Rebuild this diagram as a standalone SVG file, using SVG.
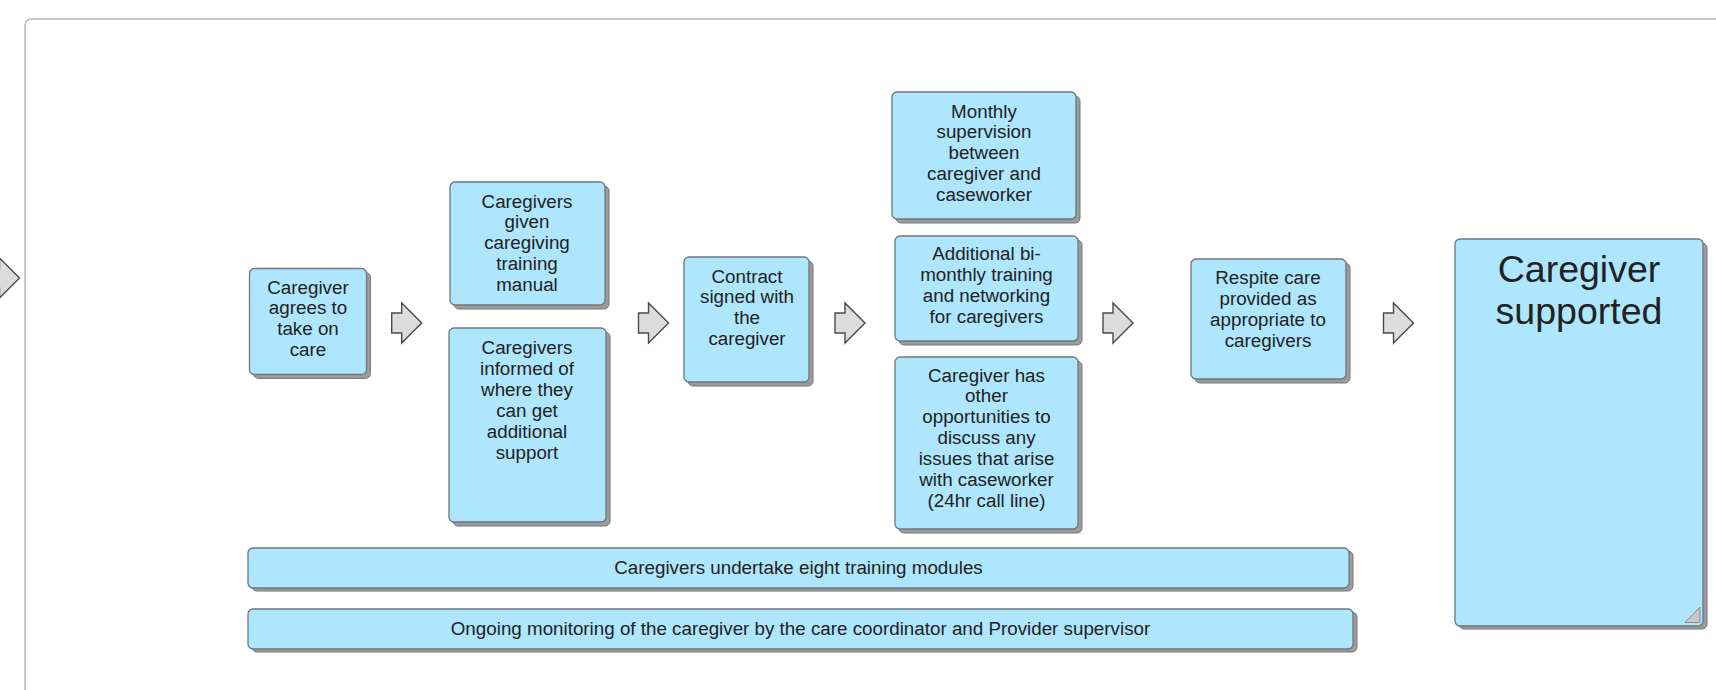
<svg xmlns="http://www.w3.org/2000/svg" width="1716" height="690" viewBox="0 0 1716 690">
<style>
.frame{fill:#fff;stroke:#b8b8b8;stroke-width:1.5}
.sh{fill:#9c9c9c;stroke:#777;stroke-width:1}
.bx{fill:#aee6fd;stroke:#6d777d;stroke-width:1.3}
.t{font-family:"Liberation Sans",Arial,Helvetica,sans-serif;font-size:18.8px;fill:#222;text-anchor:middle}
.big{font-family:"Liberation Sans",Arial,Helvetica,sans-serif;font-size:37.5px;fill:#222;text-anchor:middle}
.arr{fill:#dcdcdc;stroke:#4a4a4a;stroke-width:1.4;stroke-linejoin:miter}
</style>
<defs>
<polygon id="ar" points="0,-10 10,-10 10,-20 30,0 10,20 10,10 0,10"/>
</defs>
<rect width="1716" height="690" fill="#fff"/>
<rect class="frame" x="25" y="19" width="1740" height="720" rx="6"/>
<g id="connectors">
<use href="#ar" class="arr" x="-10.5" y="278"/>
<use href="#ar" class="arr" x="391.7" y="323"/>
<use href="#ar" class="arr" x="638.5" y="323"/>
<use href="#ar" class="arr" x="835" y="323"/>
<use href="#ar" class="arr" x="1103" y="323"/>
<use href="#ar" class="arr" x="1383.5" y="323"/>
</g>
<g id="n1">
<rect class="sh" x="253.5" y="272.5" width="117" height="106" rx="5"/>
<rect class="bx" x="249.5" y="268.5" width="117" height="106" rx="5"/>
<text class="t" x="308" y="293.5">Caregiver<tspan x="308" dy="20.9">agrees to</tspan><tspan x="308" dy="20.9">take on</tspan><tspan x="308" dy="20.9">care</tspan></text>
</g>
<g id="n2">
<rect class="sh" x="454" y="186" width="155" height="123" rx="5"/>
<rect class="bx" x="450" y="182" width="155" height="123" rx="5"/>
<text class="t" x="527" y="207.5">Caregivers<tspan x="527" dy="20.9">given</tspan><tspan x="527" dy="20.9">caregiving</tspan><tspan x="527" dy="20.9">training</tspan><tspan x="527" dy="20.9">manual</tspan></text>
</g>
<g id="n3">
<rect class="sh" x="453" y="332" width="157" height="194" rx="5"/>
<rect class="bx" x="449" y="328" width="157" height="194" rx="5"/>
<text class="t" x="527" y="354">Caregivers<tspan x="527" dy="20.9">informed of</tspan><tspan x="527" dy="20.9">where they</tspan><tspan x="527" dy="20.9">can get</tspan><tspan x="527" dy="20.9">additional</tspan><tspan x="527" dy="20.9">support</tspan></text>
</g>
<g id="n4">
<rect class="sh" x="688" y="261" width="125" height="125" rx="5"/>
<rect class="bx" x="684" y="257" width="125" height="125" rx="5"/>
<text class="t" x="747" y="282.5">Contract<tspan x="747" dy="20.9">signed with</tspan><tspan x="747" dy="20.9">the</tspan><tspan x="747" dy="20.9">caregiver</tspan></text>
</g>
<g id="n5">
<rect class="sh" x="896" y="96" width="184" height="127" rx="5"/>
<rect class="bx" x="892" y="92" width="184" height="127" rx="5"/>
<text class="t" x="984" y="117.5">Monthly<tspan x="984" dy="20.9">supervision</tspan><tspan x="984" dy="20.9">between</tspan><tspan x="984" dy="20.9">caregiver and</tspan><tspan x="984" dy="20.9">caseworker</tspan></text>
</g>
<g id="n6">
<rect class="sh" x="899" y="240" width="183" height="105" rx="5"/>
<rect class="bx" x="895" y="236" width="183" height="105" rx="5"/>
<text class="t" x="986.5" y="260">Additional bi-<tspan x="986.5" dy="20.9">monthly training</tspan><tspan x="986.5" dy="20.9">and networking</tspan><tspan x="986.5" dy="20.9">for caregivers</tspan></text>
</g>
<g id="n7">
<rect class="sh" x="899" y="361" width="183" height="172" rx="5"/>
<rect class="bx" x="895" y="357" width="183" height="172" rx="5"/>
<text class="t" x="986.5" y="381.5">Caregiver has<tspan x="986.5" dy="20.9">other</tspan><tspan x="986.5" dy="20.9">opportunities to</tspan><tspan x="986.5" dy="20.9">discuss any</tspan><tspan x="986.5" dy="20.9">issues that arise</tspan><tspan x="986.5" dy="20.9">with caseworker</tspan><tspan x="986.5" dy="20.9">(24hr call line)</tspan></text>
</g>
<g id="n8">
<rect class="sh" x="1195" y="263" width="155" height="120" rx="5"/>
<rect class="bx" x="1191" y="259" width="155" height="120" rx="5"/>
<text class="t" x="1268" y="284">Respite care<tspan x="1268" dy="20.9">provided as</tspan><tspan x="1268" dy="20.9">appropriate to</tspan><tspan x="1268" dy="20.9">caregivers</tspan></text>
</g>
<g id="n9">
<rect class="sh" x="1459" y="243" width="248" height="386" rx="5"/>
<rect class="bx" x="1455" y="239" width="248" height="387" rx="5"/>
<polygon points="1685,622.5 1700,607 1700,622.5" fill="#c8c8c8" stroke="#8a8a8a" stroke-width="1"/>
<text class="big" x="1579" y="282">Caregiver<tspan x="1579" dy="41.5">supported</tspan></text>
</g>
<g id="n10">
<rect class="sh" x="252" y="551" width="1101" height="40" rx="5"/>
<rect class="bx" x="248" y="548" width="1101" height="40" rx="5"/>
<text class="t" x="798.5" y="573.5">Caregivers undertake eight training modules</text>
</g>
<g id="n11">
<rect class="sh" x="252" y="612" width="1105" height="40" rx="5"/>
<rect class="bx" x="248" y="609" width="1105" height="40" rx="5"/>
<text class="t" x="800.5" y="634.5">Ongoing monitoring of the caregiver by the care coordinator and Provider supervisor</text>
</g>
</svg>
